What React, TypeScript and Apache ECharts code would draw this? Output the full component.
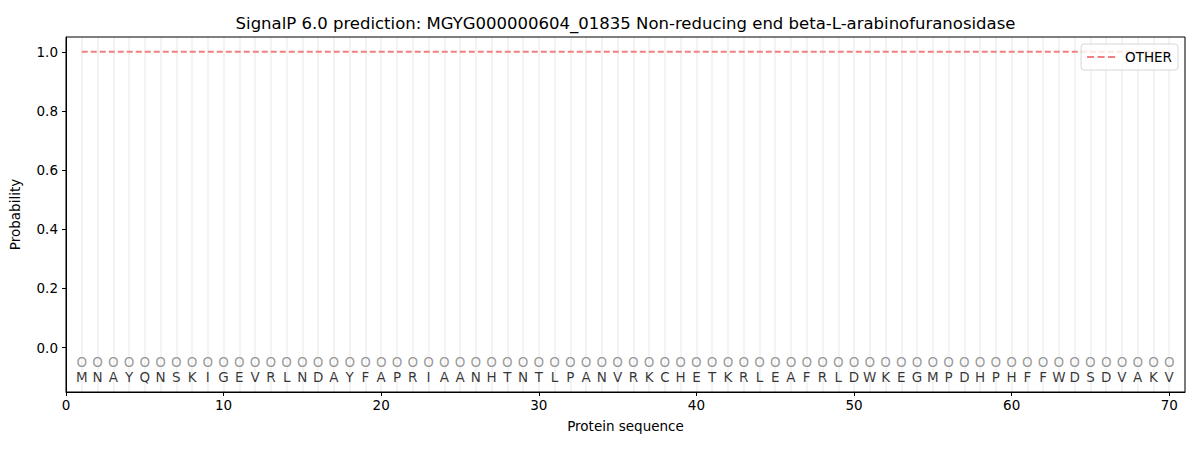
import React, { useEffect, useRef } from "react";
import * as echarts from "echarts";

const TITLE = "SignalP 6.0 prediction: MGYG000000604_01835 Non-reducing end beta-L-arabinofuranosidase";
const residues = "MNAYQNSKIGEVRLNDAYFAPRIAANHTNTLPANVRKCHETKRLEAFRLDWKEGMPDHPHFFWDSDVAKV".split("");
const predictedLabels = residues.map(() => "O");
const otherProb = residues.map(() => 1.0);
const yTicks = [0, 0.2, 0.4, 0.6, 0.8, 1.0];
const xTicks = [0, 10, 20, 30, 40, 50, 60, 70];

const FONT = "DejaVu Sans";

export default function App() {
  const ref = useRef<HTMLDivElement>(null);
  useEffect(() => {
    document.body.style.margin = "0";
    if (!ref.current) return;
    const chart = echarts.init(ref.current, undefined, { renderer: "svg" });
    const positions = residues.map((_, i) => i + 1);
    chart.setOption({
      animation: false,
      textStyle: { fontFamily: FONT },
      grid: { left: 66, right: 15, top: 37, bottom: 58, show: true, z: 10, borderColor: "#000", borderWidth: 1, backgroundColor: "transparent" },
      graphic: [
        {
          type: "text",
          x: 625.5,
          y: 23,
          style: { text: TITLE, fontFamily: FONT, fontSize: 16.5, fill: "#000", textAlign: "center", textVerticalAlign: "middle" },
        },
      ],
      legend: {
        right: 22,
        top: 44,
        orient: "vertical",
        data: [{ name: "OTHER", icon: "path://M0,0h7v2h-7z M10.5,0h7v2h-7z M21,0h7v2h-7z" }],
        itemWidth: 28,
        itemHeight: 2,
        itemGap: 0,
        padding: [6, 6, 6, 6],
        borderColor: "#d6d6d6",
        borderWidth: 1,
        borderRadius: 3,
        backgroundColor: "rgba(255,255,255,0.8)",
        textStyle: { fontFamily: FONT, fontSize: 13.5, color: "#000", padding: [0, 0, 0, 5] },
      },
      xAxis: [
        {
          type: "value",
          min: 0,
          max: 71,
          interval: 10,
          name: "Protein sequence",
          nameLocation: "middle",
          nameGap: 27,
          nameTextStyle: { fontFamily: FONT, fontSize: 13.5, color: "#000" },
          axisLine: { show: true, onZero: false, lineStyle: { color: "#000" } },
          axisTick: { show: true, length: 4, lineStyle: { color: "#000" }, customValues: xTicks },
          axisLabel: { fontFamily: FONT, fontSize: 13.5, color: "#000", margin: 6, customValues: xTicks },
          splitLine: { show: false },
          z: 12,
        },
        {
          type: "value",
          min: 0,
          max: 71,
          interval: 1,
          position: "bottom",
          axisLine: { show: false, onZero: false },
          axisTick: { show: false },
          axisLabel: { show: false },
          splitLine: { show: true, lineStyle: { color: "#f3f3f3", width: 2 } },
          z: 0,
        },
      ],
      yAxis: {
        type: "value",
        min: -0.15,
        max: 1.05,
        name: "Probability",
        nameLocation: "middle",
        nameGap: 44,
        nameTextStyle: { fontFamily: FONT, fontSize: 13.5, color: "#000" },
        axisLine: { show: true, onZero: false, lineStyle: { color: "#000" } },
        axisTick: { show: true, length: 4, lineStyle: { color: "#000" }, customValues: yTicks },
        axisLabel: {
          fontFamily: FONT,
          fontSize: 13.5,
          color: "#000",
          margin: 8,
          customValues: yTicks,
          formatter: (v: number) => v.toFixed(1),
        },
        splitLine: { show: false },
        z: 12,
      },
      series: [
        {
          name: "OTHER",
          type: "line",
          data: positions.map((p, i) => [p, otherProb[i]]),
          symbol: "none",
          lineStyle: { color: "#f08080", width: 2, type: [6, 3] },
          itemStyle: { color: "#f08080" },
          z: 3,
        },
        {
          name: "labels",
          type: "scatter",
          data: positions.map((p) => [p, -0.05]),
          symbolSize: 1,
          itemStyle: { color: "rgba(0,0,0,0)" },
          label: {
            show: true,
            position: "inside",
            formatter: (p: any) => predictedLabels[p.dataIndex],
            fontFamily: FONT,
            fontSize: 13.5,
            color: "#808080",
          },
          silent: true,
          z: 4,
        },
        {
          name: "residues",
          type: "scatter",
          data: positions.map((p) => [p, -0.1]),
          symbolSize: 1,
          itemStyle: { color: "rgba(0,0,0,0)" },
          label: {
            show: true,
            position: "inside",
            formatter: (p: any) => residues[p.dataIndex],
            fontFamily: FONT,
            fontSize: 13.5,
            color: "#000",
          },
          silent: true,
          z: 4,
        },
      ],
    });
    return () => chart.dispose();
  }, []);
  return <div ref={ref} style={{ width: 1200, height: 450 }} />;
}
